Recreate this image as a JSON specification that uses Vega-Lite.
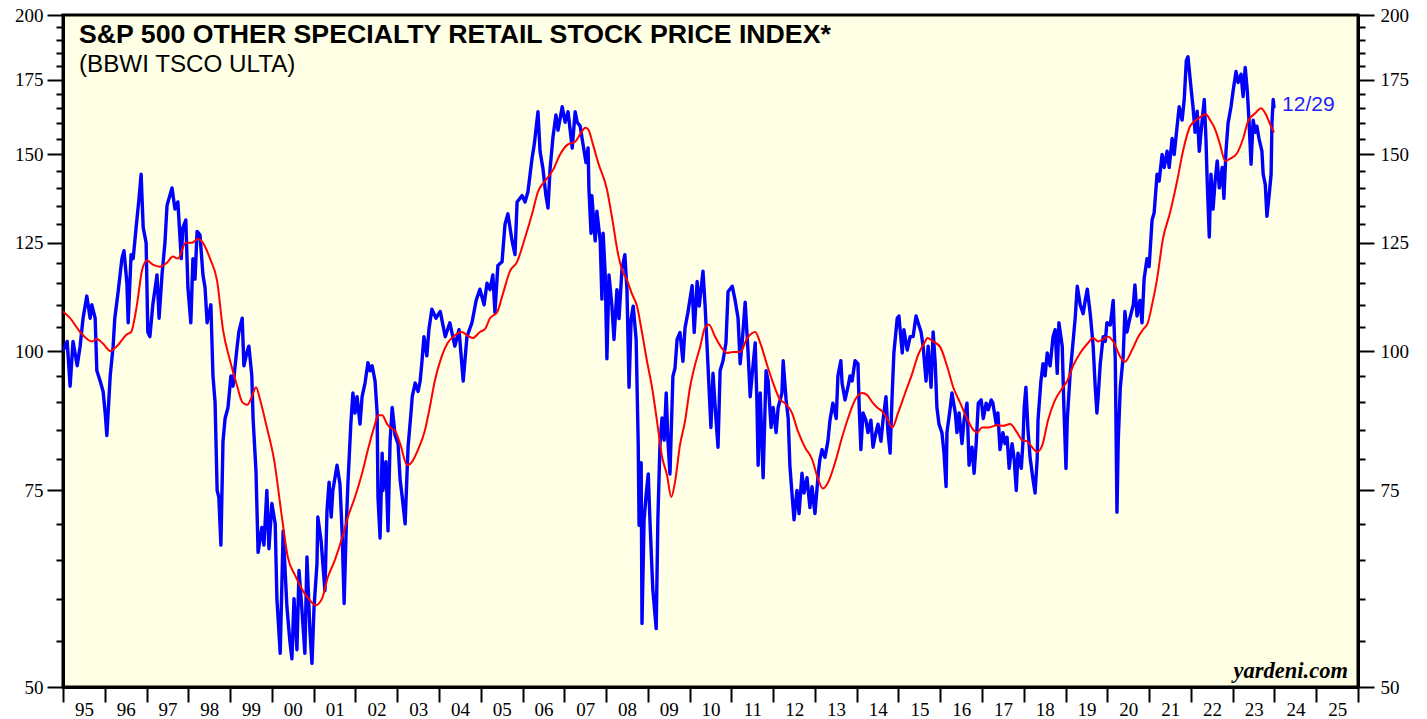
{
"$schema":"https://vega.github.io/schema/vega-lite/v6.json",
"width":1295,"height":672,
"autosize":{"type":"none"},
"padding":{"left":63,"top":15,"right":69,"bottom":32},
"background":"white",
"config":{"view":{"fill":"#FFFFE5","stroke":"black","strokeWidth":3},"axis":{"domainColor":"black","tickColor":"black","labelColor":"black","grid":false}},
"title":{"text":"S&P 500 OTHER SPECIALTY RETAIL STOCK PRICE INDEX*","subtitle":"(BBWI TSCO ULTA)","anchor":"start","frame":"group","orient":"top","offset":-71,"dx":16,"font":"Liberation Sans","fontSize":26.7,"fontWeight":"bold","color":"black","subtitleFont":"Liberation Sans","subtitleFontSize":24.2,"subtitleColor":"black","subtitlePadding":4},
"datasets":{
"idx":[
{"t":1995.00,"v":100},{"t":1995.10,"v":102},{"t":1995.17,"v":93},{"t":1995.24,"v":102},{"t":1995.34,"v":97},{"t":1995.41,"v":101},{"t":1995.48,"v":107},{"t":1995.57,"v":112},{"t":1995.65,"v":107},{"t":1995.69,"v":110},{"t":1995.77,"v":107},{"t":1995.81,"v":96},{"t":1995.89,"v":94},{"t":1995.96,"v":92},{"t":1996.01,"v":88},{"t":1996.05,"v":84},{"t":1996.13,"v":95},{"t":1996.20,"v":101},{"t":1996.24,"v":107},{"t":1996.32,"v":113},{"t":1996.41,"v":121},{"t":1996.46,"v":123},{"t":1996.53,"v":115},{"t":1996.56,"v":106},{"t":1996.63,"v":122},{"t":1996.68,"v":121},{"t":1996.75,"v":129},{"t":1996.82,"v":137},{"t":1996.87,"v":144},{"t":1996.92,"v":129},{"t":1996.99,"v":125},{"t":1997.03,"v":104},{"t":1997.08,"v":103},{"t":1997.15,"v":110},{"t":1997.25,"v":117},{"t":1997.30,"v":107},{"t":1997.37,"v":117},{"t":1997.44,"v":125},{"t":1997.49,"v":135},{"t":1997.61,"v":140},{"t":1997.68,"v":134},{"t":1997.75,"v":136},{"t":1997.83,"v":121},{"t":1997.87,"v":129},{"t":1997.94,"v":131},{"t":1997.99,"v":114},{"t":1998.06,"v":106},{"t":1998.11,"v":121},{"t":1998.16,"v":116},{"t":1998.21,"v":128},{"t":1998.28,"v":127},{"t":1998.35,"v":117},{"t":1998.40,"v":114},{"t":1998.45,"v":106},{"t":1998.54,"v":110},{"t":1998.59,"v":95},{"t":1998.64,"v":90},{"t":1998.69,"v":75},{"t":1998.73,"v":74},{"t":1998.78,"v":67},{"t":1998.83,"v":83},{"t":1998.88,"v":87},{"t":1998.95,"v":89},{"t":1999.02,"v":95},{"t":1999.07,"v":93},{"t":1999.17,"v":101},{"t":1999.21,"v":104},{"t":1999.29,"v":107},{"t":1999.33,"v":97},{"t":1999.41,"v":100},{"t":1999.45,"v":101},{"t":1999.52,"v":95},{"t":1999.55,"v":87},{"t":1999.62,"v":78},{"t":1999.67,"v":66},{"t":1999.76,"v":69.5},{"t":1999.81,"v":67},{"t":1999.88,"v":75},{"t":1999.93,"v":66.5},{"t":2000.00,"v":73},{"t":2000.08,"v":70},{"t":2000.12,"v":60},{"t":2000.20,"v":53.6},{"t":2000.27,"v":69},{"t":2000.36,"v":59},{"t":2000.43,"v":55},{"t":2000.48,"v":53},{"t":2000.53,"v":60},{"t":2000.60,"v":54},{"t":2000.65,"v":63.6},{"t":2000.72,"v":58.6},{"t":2000.79,"v":53.6},{"t":2000.84,"v":65.4},{"t":2000.91,"v":56.2},{"t":2000.96,"v":52.5},{"t":2001.01,"v":59},{"t":2001.08,"v":64.5},{"t":2001.10,"v":71},{"t":2001.18,"v":67.5},{"t":2001.22,"v":64.5},{"t":2001.27,"v":61},{"t":2001.32,"v":72},{"t":2001.37,"v":76.3},{"t":2001.42,"v":71},{"t":2001.46,"v":75},{"t":2001.56,"v":79},{"t":2001.63,"v":76},{"t":2001.68,"v":69},{"t":2001.73,"v":59.4},{"t":2001.78,"v":69.5},{"t":2001.82,"v":76},{"t":2001.89,"v":86},{"t":2001.94,"v":91.7},{"t":2001.99,"v":88},{"t":2002.04,"v":91},{"t":2002.11,"v":86},{"t":2002.16,"v":91},{"t":2002.23,"v":93.6},{"t":2002.30,"v":97.6},{"t":2002.35,"v":96},{"t":2002.40,"v":97},{"t":2002.47,"v":94},{"t":2002.52,"v":88},{"t":2002.54,"v":74},{"t":2002.59,"v":68},{"t":2002.64,"v":81},{"t":2002.66,"v":75},{"t":2002.73,"v":79.6},{"t":2002.78,"v":69},{"t":2002.83,"v":83},{"t":2002.88,"v":89},{"t":2002.95,"v":84},{"t":2003.02,"v":82.6},{"t":2003.07,"v":76.7},{"t":2003.12,"v":74},{"t":2003.19,"v":70},{"t":2003.24,"v":78.5},{"t":2003.26,"v":82},{"t":2003.33,"v":88},{"t":2003.36,"v":91},{"t":2003.43,"v":93.6},{"t":2003.50,"v":92},{"t":2003.55,"v":94},{"t":2003.59,"v":97.6},{"t":2003.64,"v":103},{"t":2003.71,"v":99},{"t":2003.76,"v":104.6},{"t":2003.83,"v":109},{"t":2003.93,"v":107},{"t":2004.03,"v":108.5},{"t":2004.15,"v":103},{"t":2004.26,"v":106},{"t":2004.38,"v":101},{"t":2004.48,"v":104.5},{"t":2004.58,"v":94},{"t":2004.67,"v":103},{"t":2004.79,"v":106},{"t":2004.89,"v":111},{"t":2004.98,"v":113.6},{"t":2005.08,"v":110},{"t":2005.15,"v":115},{"t":2005.22,"v":113.5},{"t":2005.29,"v":117},{"t":2005.34,"v":108.3},{"t":2005.41,"v":119.3},{"t":2005.51,"v":120.2},{"t":2005.58,"v":129.8},{"t":2005.65,"v":132.7},{"t":2005.75,"v":125.5},{"t":2005.82,"v":122},{"t":2005.87,"v":136},{"t":2005.99,"v":137.8},{"t":2006.06,"v":136},{"t":2006.13,"v":138.9},{"t":2006.23,"v":149},{"t":2006.28,"v":153},{"t":2006.37,"v":163.8},{"t":2006.42,"v":151},{"t":2006.49,"v":145.6},{"t":2006.56,"v":137.8},{"t":2006.61,"v":134.3},{"t":2006.66,"v":145.6},{"t":2006.73,"v":155.6},{"t":2006.80,"v":162.7},{"t":2006.85,"v":157.7},{"t":2006.95,"v":165.5},{"t":2007.02,"v":160.3},{"t":2007.09,"v":163.8},{"t":2007.19,"v":152},{"t":2007.26,"v":163.8},{"t":2007.31,"v":160.3},{"t":2007.38,"v":159},{"t":2007.45,"v":153},{"t":2007.52,"v":147.5},{"t":2007.57,"v":152},{"t":2007.59,"v":139.6},{"t":2007.64,"v":127.5},{"t":2007.66,"v":137.8},{"t":2007.74,"v":125.5},{"t":2007.78,"v":133.4},{"t":2007.86,"v":125.5},{"t":2007.90,"v":111.3},{"t":2007.93,"v":127.5},{"t":2007.98,"v":117},{"t":2008.02,"v":98.4},{"t":2008.07,"v":117},{"t":2008.14,"v":109.7},{"t":2008.19,"v":102.4},{"t":2008.26,"v":113.5},{"t":2008.31,"v":106.9},{"t":2008.38,"v":118.3},{"t":2008.45,"v":122},{"t":2008.50,"v":113.5},{"t":2008.55,"v":92.8},{"t":2008.60,"v":106.9},{"t":2008.65,"v":109.7},{"t":2008.72,"v":102.4},{"t":2008.77,"v":82.4},{"t":2008.79,"v":69.8},{"t":2008.84,"v":79.4},{"t":2008.86,"v":57},{"t":2008.91,"v":70.6},{"t":2008.96,"v":74.4},{"t":2009.01,"v":77.6},{"t":2009.05,"v":70.6},{"t":2009.10,"v":63.5},{"t":2009.12,"v":61.1},{"t":2009.20,"v":56.4},{"t":2009.24,"v":70.6},{"t":2009.29,"v":82.4},{"t":2009.34,"v":87.1},{"t":2009.39,"v":83.2},{"t":2009.44,"v":91.7},{"t":2009.48,"v":83.2},{"t":2009.53,"v":77.6},{"t":2009.60,"v":94.9},{"t":2009.65,"v":96.5},{"t":2009.70,"v":102.4},{"t":2009.77,"v":103.9},{"t":2009.84,"v":97.9},{"t":2009.89,"v":104.9},{"t":2009.96,"v":108.3},{"t":2010.06,"v":114.4},{"t":2010.11,"v":103.9},{"t":2010.18,"v":115.4},{"t":2010.23,"v":109.7},{"t":2010.32,"v":117.9},{"t":2010.37,"v":110},{"t":2010.44,"v":97},{"t":2010.51,"v":85.4},{"t":2010.56,"v":95.5},{"t":2010.63,"v":87},{"t":2010.68,"v":82},{"t":2010.73,"v":96},{"t":2010.80,"v":98},{"t":2010.87,"v":101.7},{"t":2010.92,"v":113},{"t":2011.02,"v":114.3},{"t":2011.09,"v":111},{"t":2011.16,"v":107},{"t":2011.21,"v":97.4},{"t":2011.26,"v":102},{"t":2011.33,"v":110.6},{"t":2011.40,"v":99.6},{"t":2011.45,"v":91},{"t":2011.50,"v":95.5},{"t":2011.57,"v":101.7},{"t":2011.61,"v":90.4},{"t":2011.64,"v":79},{"t":2011.69,"v":91.7},{"t":2011.76,"v":77},{"t":2011.83,"v":96},{"t":2011.88,"v":94},{"t":2011.95,"v":85.4},{"t":2012.00,"v":89},{"t":2012.07,"v":84.5},{"t":2012.12,"v":89},{"t":2012.21,"v":91.7},{"t":2012.24,"v":98},{"t":2012.31,"v":90.4},{"t":2012.36,"v":87},{"t":2012.40,"v":79},{"t":2012.45,"v":74.6},{"t":2012.50,"v":70.6},{"t":2012.57,"v":75},{"t":2012.62,"v":71.5},{"t":2012.69,"v":77.7},{"t":2012.74,"v":74.6},{"t":2012.81,"v":77},{"t":2012.88,"v":72.4},{"t":2012.93,"v":75.6},{"t":2013.00,"v":71.5},{"t":2013.08,"v":77.7},{"t":2013.12,"v":80},{"t":2013.17,"v":81.6},{"t":2013.24,"v":80.3},{"t":2013.31,"v":83},{"t":2013.36,"v":86.7},{"t":2013.43,"v":89.8},{"t":2013.51,"v":87},{"t":2013.55,"v":95},{"t":2013.62,"v":98},{"t":2013.65,"v":93.6},{"t":2013.72,"v":90.4},{"t":2013.79,"v":92.8},{"t":2013.84,"v":95},{"t":2013.89,"v":94},{"t":2013.96,"v":98},{"t":2014.03,"v":97.4},{"t":2014.06,"v":89},{"t":2014.10,"v":81.6},{"t":2014.15,"v":88},{"t":2014.22,"v":86.7},{"t":2014.27,"v":84.5},{"t":2014.34,"v":86.7},{"t":2014.39,"v":82},{"t":2014.46,"v":84.5},{"t":2014.51,"v":86},{"t":2014.58,"v":83},{"t":2014.63,"v":86.7},{"t":2014.70,"v":91},{"t":2014.75,"v":84.5},{"t":2014.80,"v":81},{"t":2014.85,"v":91.7},{"t":2014.89,"v":99.6},{"t":2014.97,"v":107},{"t":2015.01,"v":107.5},{"t":2015.09,"v":99.6},{"t":2015.13,"v":104.5},{"t":2015.21,"v":100.2},{"t":2015.28,"v":103},{"t":2015.35,"v":103},{"t":2015.42,"v":107.5},{"t":2015.47,"v":106},{"t":2015.54,"v":104},{"t":2015.59,"v":101},{"t":2015.66,"v":94},{"t":2015.71,"v":101},{"t":2015.78,"v":92.8},{"t":2015.83,"v":104},{"t":2015.88,"v":97.4},{"t":2015.92,"v":89},{"t":2015.97,"v":86},{"t":2016.04,"v":84.5},{"t":2016.09,"v":81},{"t":2016.14,"v":75.6},{"t":2016.16,"v":84.5},{"t":2016.24,"v":89},{"t":2016.28,"v":91.7},{"t":2016.36,"v":88},{"t":2016.40,"v":84.5},{"t":2016.45,"v":88},{"t":2016.52,"v":82.6},{"t":2016.57,"v":86.7},{"t":2016.64,"v":89.8},{"t":2016.69,"v":79},{"t":2016.76,"v":82},{"t":2016.81,"v":77.7},{"t":2016.86,"v":82.6},{"t":2016.91,"v":89.8},{"t":2016.98,"v":90.4},{"t":2017.03,"v":87},{"t":2017.10,"v":89.8},{"t":2017.15,"v":88.6},{"t":2017.22,"v":90.4},{"t":2017.26,"v":89.8},{"t":2017.34,"v":86},{"t":2017.38,"v":88},{"t":2017.43,"v":81.6},{"t":2017.50,"v":84.5},{"t":2017.55,"v":82.6},{"t":2017.60,"v":83.7},{"t":2017.65,"v":78.5},{"t":2017.72,"v":82.6},{"t":2017.77,"v":80},{"t":2017.82,"v":75},{"t":2017.86,"v":81},{"t":2017.94,"v":78.5},{"t":2017.98,"v":83},{"t":2018.01,"v":89},{"t":2018.05,"v":92.8},{"t":2018.10,"v":85},{"t":2018.15,"v":80.3},{"t":2018.22,"v":76.7},{"t":2018.27,"v":74.6},{"t":2018.32,"v":80},{"t":2018.34,"v":86.7},{"t":2018.41,"v":94},{"t":2018.46,"v":97.4},{"t":2018.51,"v":95},{"t":2018.56,"v":99.6},{"t":2018.63,"v":97},{"t":2018.70,"v":103},{"t":2018.75,"v":104.5},{"t":2018.80,"v":95.5},{"t":2018.84,"v":106},{"t":2018.92,"v":101},{"t":2018.96,"v":89},{"t":2019.01,"v":78.5},{"t":2019.04,"v":86.7},{"t":2019.11,"v":95.5},{"t":2019.18,"v":102},{"t":2019.23,"v":107},{"t":2019.28,"v":114.3},{"t":2019.35,"v":110},{"t":2019.42,"v":108},{"t":2019.47,"v":111},{"t":2019.52,"v":113.6},{"t":2019.59,"v":108},{"t":2019.64,"v":103},{"t":2019.66,"v":101},{"t":2019.71,"v":92.8},{"t":2019.75,"v":88},{"t":2019.78,"v":91},{"t":2019.83,"v":97.4},{"t":2019.90,"v":103},{"t":2019.95,"v":102},{"t":2019.99,"v":106},{"t":2020.07,"v":105.5},{"t":2020.14,"v":111},{"t":2020.19,"v":98},{"t":2020.23,"v":71.7},{"t":2020.26,"v":83},{"t":2020.31,"v":92.8},{"t":2020.38,"v":99},{"t":2020.42,"v":108.5},{"t":2020.47,"v":104},{"t":2020.54,"v":107},{"t":2020.62,"v":110},{"t":2020.66,"v":114.6},{"t":2020.71,"v":107.5},{"t":2020.78,"v":111},{"t":2020.83,"v":106},{"t":2020.88,"v":116},{"t":2020.95,"v":121},{"t":2021.00,"v":119},{"t":2021.07,"v":131},{"t":2021.12,"v":133},{"t":2021.19,"v":144},{"t":2021.24,"v":142},{"t":2021.31,"v":150},{"t":2021.36,"v":146},{"t":2021.43,"v":151},{"t":2021.48,"v":146},{"t":2021.55,"v":155},{"t":2021.60,"v":150},{"t":2021.67,"v":159},{"t":2021.72,"v":165.5},{"t":2021.79,"v":161},{"t":2021.84,"v":168},{"t":2021.89,"v":182},{"t":2021.93,"v":183.5},{"t":2022.01,"v":171},{"t":2022.05,"v":165.5},{"t":2022.10,"v":157},{"t":2022.15,"v":164},{"t":2022.20,"v":151},{"t":2022.27,"v":161},{"t":2022.32,"v":168},{"t":2022.36,"v":155},{"t":2022.39,"v":142},{"t":2022.44,"v":126.5},{"t":2022.48,"v":144},{"t":2022.53,"v":134},{"t":2022.58,"v":142},{"t":2022.63,"v":148},{"t":2022.68,"v":140},{"t":2022.75,"v":146},{"t":2022.79,"v":137},{"t":2022.84,"v":151},{"t":2022.89,"v":160},{"t":2022.96,"v":165.5},{"t":2023.01,"v":171},{"t":2023.08,"v":178},{"t":2023.13,"v":174},{"t":2023.20,"v":177},{"t":2023.25,"v":169},{"t":2023.30,"v":179.5},{"t":2023.35,"v":171},{"t":2023.39,"v":161},{"t":2023.44,"v":147},{"t":2023.49,"v":161},{"t":2023.54,"v":157},{"t":2023.58,"v":159},{"t":2023.63,"v":155},{"t":2023.70,"v":151},{"t":2023.73,"v":144},{"t":2023.78,"v":141},{"t":2023.82,"v":132},{"t":2023.87,"v":137.6},{"t":2023.92,"v":144},{"t":2023.94,"v":160},{"t":2023.97,"v":168},{"t":2023.99,"v":165}
],
"ma":[
{"t":1995.00,"v":108.5},{"t":1995.17,"v":107},{"t":1995.41,"v":104},{"t":1995.69,"v":102},{"t":1995.81,"v":102.5},{"t":1995.96,"v":101.5},{"t":1996.13,"v":100},{"t":1996.29,"v":101},{"t":1996.53,"v":103.5},{"t":1996.63,"v":104},{"t":1996.77,"v":110},{"t":1996.89,"v":118},{"t":1997.01,"v":120.5},{"t":1997.15,"v":119.5},{"t":1997.32,"v":119},{"t":1997.49,"v":120},{"t":1997.63,"v":121.5},{"t":1997.75,"v":121},{"t":1997.94,"v":125},{"t":1998.08,"v":125},{"t":1998.23,"v":126},{"t":1998.35,"v":125},{"t":1998.52,"v":121},{"t":1998.69,"v":115.5},{"t":1998.83,"v":104.5},{"t":1999.00,"v":98},{"t":1999.17,"v":93},{"t":1999.29,"v":90},{"t":1999.41,"v":89.5},{"t":1999.52,"v":91},{"t":1999.62,"v":92.8},{"t":1999.72,"v":90.4},{"t":1999.88,"v":85.4},{"t":2000.05,"v":80},{"t":2000.24,"v":71},{"t":2000.38,"v":65.4},{"t":2000.55,"v":63},{"t":2000.74,"v":61},{"t":2000.91,"v":59.8},{"t":2001.05,"v":59.2},{"t":2001.20,"v":60},{"t":2001.34,"v":62.7},{"t":2001.51,"v":65},{"t":2001.68,"v":68},{"t":2001.82,"v":71},{"t":2001.99,"v":74},{"t":2002.16,"v":77.7},{"t":2002.30,"v":81.6},{"t":2002.47,"v":86},{"t":2002.54,"v":87.6},{"t":2002.64,"v":87.6},{"t":2002.76,"v":86},{"t":2002.83,"v":85.4},{"t":2002.95,"v":84.8},{"t":2003.07,"v":82.6},{"t":2003.24,"v":79},{"t":2003.36,"v":79.6},{"t":2003.50,"v":81.6},{"t":2003.66,"v":84.8},{"t":2003.78,"v":89},{"t":2003.90,"v":94},{"t":2004.07,"v":99},{"t":2004.21,"v":101.7},{"t":2004.38,"v":103.3},{"t":2004.55,"v":104},{"t":2004.67,"v":103.3},{"t":2004.81,"v":102.7},{"t":2004.98,"v":104},{"t":2005.10,"v":104.6},{"t":2005.22,"v":107},{"t":2005.39,"v":108.3},{"t":2005.53,"v":112.5},{"t":2005.70,"v":117.9},{"t":2005.87,"v":120.2},{"t":2006.06,"v":126.3},{"t":2006.23,"v":132.7},{"t":2006.37,"v":138.9},{"t":2006.54,"v":142},{"t":2006.73,"v":145.3},{"t":2006.90,"v":150},{"t":2007.07,"v":153},{"t":2007.26,"v":154},{"t":2007.38,"v":156.4},{"t":2007.50,"v":158.5},{"t":2007.57,"v":158},{"t":2007.69,"v":153},{"t":2007.81,"v":147.5},{"t":2008.02,"v":139.6},{"t":2008.14,"v":131.9},{"t":2008.29,"v":122},{"t":2008.38,"v":118.3},{"t":2008.50,"v":115.8},{"t":2008.62,"v":112.5},{"t":2008.74,"v":109.7},{"t":2008.86,"v":103.9},{"t":2008.98,"v":97.9},{"t":2009.10,"v":92.8},{"t":2009.22,"v":86.5},{"t":2009.34,"v":80.4},{"t":2009.46,"v":77.4},{"t":2009.56,"v":74},{"t":2009.65,"v":76.3},{"t":2009.77,"v":82.4},{"t":2009.89,"v":86.5},{"t":2010.01,"v":92.8},{"t":2010.13,"v":97.2},{"t":2010.25,"v":100.8},{"t":2010.37,"v":105},{"t":2010.46,"v":105.6},{"t":2010.61,"v":103},{"t":2010.77,"v":100.6},{"t":2010.89,"v":99.6},{"t":2011.04,"v":99.8},{"t":2011.21,"v":99.8},{"t":2011.38,"v":102.7},{"t":2011.57,"v":104},{"t":2011.69,"v":101.7},{"t":2011.86,"v":97},{"t":2012.00,"v":93.6},{"t":2012.17,"v":90.4},{"t":2012.28,"v":89.8},{"t":2012.45,"v":88},{"t":2012.59,"v":84.8},{"t":2012.76,"v":82},{"t":2012.93,"v":80},{"t":2013.08,"v":76.7},{"t":2013.19,"v":75.3},{"t":2013.31,"v":76.2},{"t":2013.48,"v":79.4},{"t":2013.65,"v":83.7},{"t":2013.79,"v":87},{"t":2013.96,"v":90.4},{"t":2014.13,"v":91.7},{"t":2014.25,"v":91.3},{"t":2014.37,"v":90},{"t":2014.49,"v":89},{"t":2014.61,"v":88.3},{"t":2014.73,"v":87},{"t":2014.85,"v":85.4},{"t":2014.99,"v":88},{"t":2015.16,"v":91.7},{"t":2015.33,"v":95.5},{"t":2015.47,"v":99.2},{"t":2015.64,"v":102},{"t":2015.69,"v":102.7},{"t":2015.83,"v":102},{"t":2016.00,"v":100.8},{"t":2016.16,"v":97},{"t":2016.31,"v":92.8},{"t":2016.48,"v":89.8},{"t":2016.64,"v":87},{"t":2016.79,"v":85},{"t":2016.88,"v":84.5},{"t":2017.00,"v":85.4},{"t":2017.15,"v":85.4},{"t":2017.36,"v":85.8},{"t":2017.50,"v":85.7},{"t":2017.67,"v":86},{"t":2017.84,"v":84.5},{"t":2017.96,"v":83.2},{"t":2018.08,"v":83},{"t":2018.22,"v":81.8},{"t":2018.32,"v":81.2},{"t":2018.44,"v":82.3},{"t":2018.58,"v":86.7},{"t":2018.75,"v":90.4},{"t":2018.92,"v":92.6},{"t":2019.04,"v":94},{"t":2019.18,"v":97},{"t":2019.35,"v":99.6},{"t":2019.52,"v":101.5},{"t":2019.66,"v":102.7},{"t":2019.78,"v":102},{"t":2019.90,"v":102.5},{"t":2020.02,"v":103},{"t":2020.14,"v":102},{"t":2020.31,"v":98.8},{"t":2020.42,"v":97.8},{"t":2020.59,"v":100.2},{"t":2020.74,"v":103},{"t":2020.86,"v":104.6},{"t":2020.97,"v":106},{"t":2021.07,"v":110},{"t":2021.19,"v":116},{"t":2021.33,"v":126},{"t":2021.50,"v":133},{"t":2021.67,"v":142},{"t":2021.81,"v":151},{"t":2021.98,"v":159},{"t":2022.10,"v":160.7},{"t":2022.22,"v":162},{"t":2022.36,"v":163},{"t":2022.46,"v":161},{"t":2022.58,"v":158},{"t":2022.70,"v":153},{"t":2022.82,"v":148},{"t":2022.94,"v":148.7},{"t":2023.10,"v":150.3},{"t":2023.25,"v":155},{"t":2023.37,"v":160.7},{"t":2023.54,"v":163.3},{"t":2023.68,"v":165},{"t":2023.78,"v":163.3},{"t":2023.90,"v":159.5},{"t":2023.99,"v":157}
],
"last":[{"t":2023.99,"v":166,"label":"12/29"}],
"src":[{"t":2025.76,"v":50.9,"label":"yardeni.com"}]
},
"layer":[
{"data":{"name":"idx"},"mark":{"type":"line","color":"#0000FF","strokeWidth":3.4,"strokeJoin":"round","clip":true},
 "encoding":{
  "x":{"field":"t","type":"quantitative","scale":{"domain":[1995,2026],"nice":false,"zero":false},
   "axis":{"orient":"bottom","title":null,"values":[1995,1996,1997,1998,1999,2000,2001,2002,2003,2004,2005,2006,2007,2008,2009,2010,2011,2012,2013,2014,2015,2016,2017,2018,2019,2020,2021,2022,2023,2024,2025,2026],"labelExpr":"datum.value < 2026 ? substring(toString(datum.value), 2, 4) : ''","labelOffset":21,"tickSize":15,"tickWidth":2,"domainWidth":3,"labelPadding":-2,"labelFont":"Liberation Serif","labelFontSize":19,"labelOverlap":false,"labelBound":false,"labelFlush":false,"grid":false}},
  "y":{"field":"v","type":"quantitative","scale":{"type":"log","domain":[50,200],"nice":false,"zero":false},
   "axis":{"orient":"left","title":null,"values":[50,75,100,125,150,175,200],"format":"d","tickSize":16,"tickWidth":2,"domainWidth":3,"labelPadding":4,"labelFont":"Liberation Serif","labelFontSize":19,"labelOverlap":false,"labelBound":false,"labelFlush":false,"grid":false}}}},
{"data":{"name":"ma"},"mark":{"type":"line","color":"#FF0000","strokeWidth":2,"interpolate":"monotone","clip":true},
 "encoding":{
  "x":{"field":"t","type":"quantitative"},
  "y":{"field":"v","type":"quantitative","scale":{"type":"log","domain":[50,200],"nice":false,"zero":false},
   "axis":{"orient":"right","title":null,"values":[50,75,100,125,150,175,200],"format":"d","tickSize":16,"tickWidth":2,"domainWidth":3,"labelPadding":6,"labelFont":"Liberation Serif","labelFontSize":19,"labelOverlap":false,"labelBound":false,"labelFlush":false,"grid":false}}}},
{"data":{"name":"last"},"mark":{"type":"point","opacity":0},
 "encoding":{
  "y":{"field":"v","type":"quantitative","scale":{"type":"log","domain":[50,200],"nice":false,"zero":false},
   "axis":{"orient":"left","title":null,"values":[55,60,65,70,80,85,90,95,105,110,115,120,130,135,140,145,155,160,165,170,180,185,190,195],"labels":false,"domain":false,"tickSize":7,"tickWidth":2,"grid":false}}}},
{"data":{"name":"last"},"mark":{"type":"point","opacity":0},
 "encoding":{
  "y":{"field":"v","type":"quantitative","scale":{"type":"log","domain":[50,200],"nice":false,"zero":false},
   "axis":{"orient":"right","title":null,"values":[55,60,65,70,80,85,90,95,105,110,115,120,130,135,140,145,155,160,165,170,180,185,190,195],"labels":false,"domain":false,"tickSize":7,"tickWidth":2,"grid":false}}}},
{"data":{"name":"last"},"mark":{"type":"text","align":"left","baseline":"middle","dx":8,"font":"Liberation Sans","fontSize":21,"color":"#1E1EFF"},
 "encoding":{
  "x":{"field":"t","type":"quantitative"},
  "y":{"field":"v","type":"quantitative","scale":{"type":"log","domain":[50,200],"nice":false,"zero":false},"axis":null},
  "text":{"field":"label"}}},
{"data":{"name":"src"},"mark":{"type":"text","align":"right","baseline":"alphabetic","font":"Liberation Serif","fontSize":22.5,"fontWeight":"bold","fontStyle":"italic","color":"black"},
 "encoding":{
  "x":{"field":"t","type":"quantitative"},
  "y":{"field":"v","type":"quantitative","scale":{"type":"log","domain":[50,200],"nice":false,"zero":false},"axis":null},
  "text":{"field":"label"}}}
],
"resolve":{"axis":{"y":"independent"}}
}
